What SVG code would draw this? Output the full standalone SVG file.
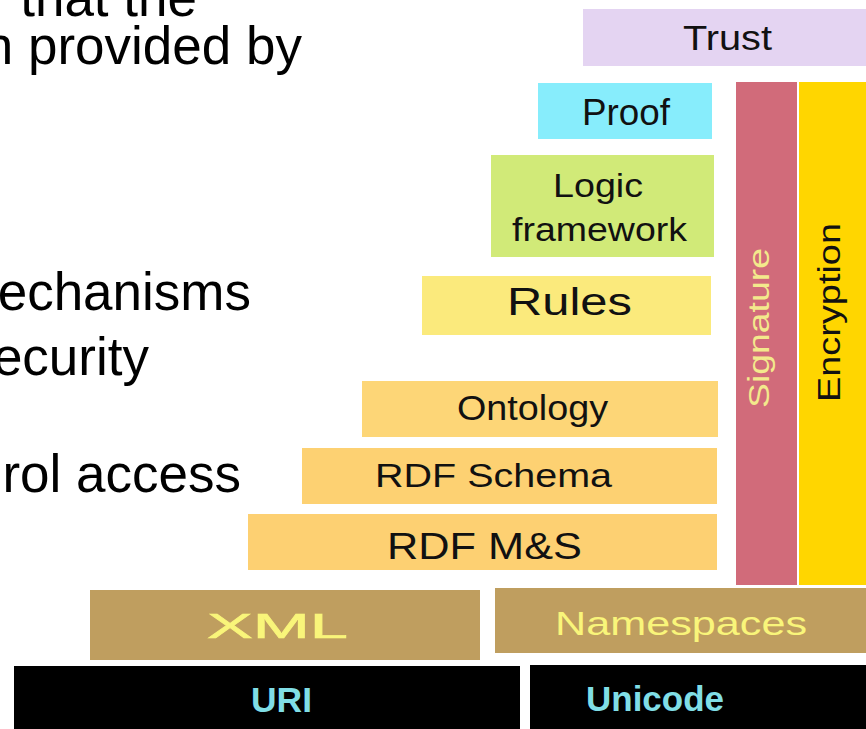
<svg xmlns="http://www.w3.org/2000/svg" width="866" height="729" viewBox="0 0 866 729">
<style>
text{font-family:"Liberation Sans",Arial,Helvetica,sans-serif}
.body{font-size:53px;fill:#000;text-anchor:end}
.lbl{fill:#111}
.ylw{fill:#f9f57a}
.cyan{fill:#80dee6;font-weight:bold}
</style>
<rect width="866" height="729" fill="#fff"/>
<g id="bullets">
<text class="body" x="197" y="16">that the</text>
<text class="body" x="302" y="64">n provided by</text>
<text class="body" x="251" y="310">echanisms</text>
<text class="body" x="149" y="375">ecurity</text>
<text class="body" x="241" y="492">rol access</text>
</g>
<g id="connectors"></g>
<g id="trust">
<rect x="583" y="9" width="283" height="57" fill="#e4d4f2"/>
<text class="lbl" x="683" y="50" font-size="35" textLength="89" lengthAdjust="spacingAndGlyphs">Trust</text>
</g>
<g id="proof">
<rect x="538" y="83" width="174" height="56" fill="#87edfc"/>
<text class="lbl" x="582" y="125" font-size="36" textLength="88" lengthAdjust="spacingAndGlyphs">Proof</text>
</g>
<g id="logic">
<rect x="491" y="155" width="223" height="102" fill="#d1ea78"/>
<text class="lbl" x="553" y="197" font-size="34" textLength="90" lengthAdjust="spacingAndGlyphs">Logic</text>
<text class="lbl" x="512" y="241" font-size="34" textLength="175" lengthAdjust="spacingAndGlyphs">framework</text>
</g>
<g id="rules">
<rect x="422" y="276" width="289" height="59" fill="#fbea7c"/>
<text class="lbl" x="507" y="315" font-size="38" textLength="125" lengthAdjust="spacingAndGlyphs">Rules</text>
</g>
<g id="ontology">
<rect x="362" y="381" width="356" height="56" fill="#fdd677"/>
<text class="lbl" x="457" y="420" font-size="35" textLength="151" lengthAdjust="spacingAndGlyphs">Ontology</text>
</g>
<g id="rdfschema">
<rect x="302" y="448" width="415" height="56" fill="#fdd172"/>
<text class="lbl" x="375" y="487" font-size="34" textLength="237" lengthAdjust="spacingAndGlyphs">RDF Schema</text>
</g>
<g id="rdfms">
<rect x="248" y="514" width="469" height="56" fill="#fdd072"/>
<text class="lbl" x="387" y="559" font-size="37" textLength="195" lengthAdjust="spacingAndGlyphs">RDF M&amp;S</text>
</g>
<g id="signature">
<rect x="736" y="82" width="61" height="503" fill="#d16b7a"/>
<text fill="#f3e98c" transform="translate(769,408) rotate(-90)" font-size="30" textLength="160" lengthAdjust="spacingAndGlyphs">Signature</text>
</g>
<g id="encryption">
<rect x="799" y="82" width="67" height="503" fill="#ffd600"/>
<text class="lbl" transform="translate(840,402) rotate(-90)" font-size="31" textLength="179" lengthAdjust="spacingAndGlyphs">Encryption</text>
</g>
<g id="xml">
<rect x="90" y="590" width="390" height="70" fill="#bf9e5f"/>
<text class="ylw" x="207" y="638" font-size="35" textLength="141" lengthAdjust="spacingAndGlyphs" stroke="#f9f57a" stroke-width="0.6">XML</text>
</g>
<g id="namespaces">
<rect x="495" y="588" width="371" height="65" fill="#bf9e5f"/>
<text class="ylw" x="555" y="635" font-size="33" textLength="252" lengthAdjust="spacingAndGlyphs">Namespaces</text>
</g>
<g id="uri">
<rect x="14" y="666" width="506" height="63" fill="#000"/>
<text class="cyan" x="251" y="712" font-size="35" textLength="61" lengthAdjust="spacingAndGlyphs">URI</text>
</g>
<g id="unicode">
<rect x="530" y="665" width="336" height="64" fill="#000"/>
<text class="cyan" x="586" y="711" font-size="35" textLength="138" lengthAdjust="spacingAndGlyphs">Unicode</text>
</g>
</svg>
